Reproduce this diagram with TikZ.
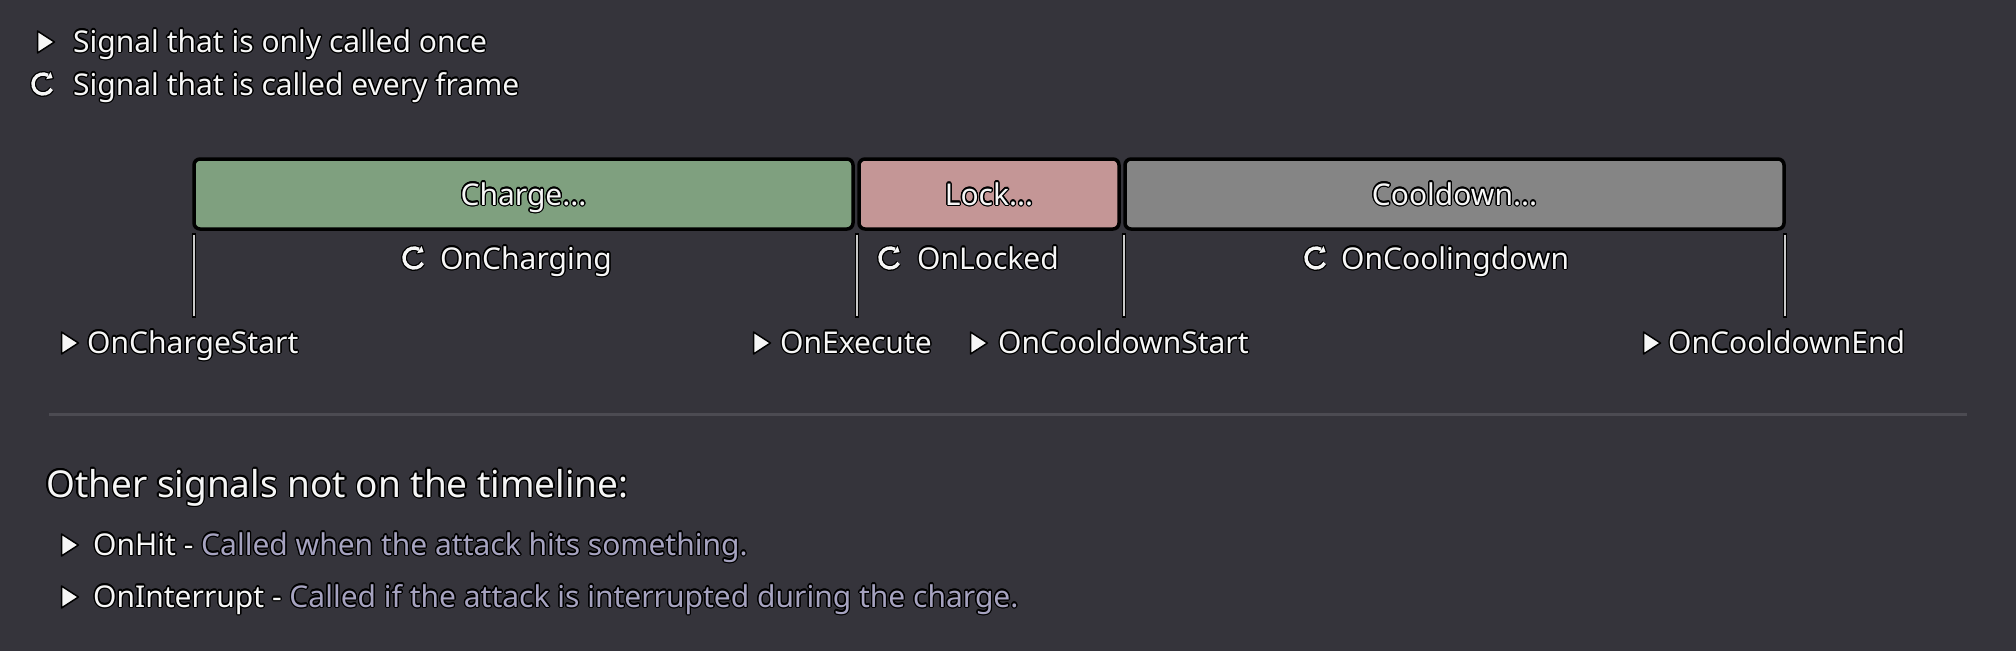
\documentclass[tikz,border=0pt]{standalone}
\usepackage{fontspec}
\setmainfont{Noto Sans}
\usepackage{contour}
\contourlength{1.3pt}
\definecolor{bg}{RGB}{53,52,59}
\definecolor{fg}{RGB}{246,246,246}
\definecolor{desc}{RGB}{166,163,192}
\definecolor{chg}{RGB}{127,160,127}
\definecolor{lck}{RGB}{196,150,150}
\definecolor{cdn}{RGB}{133,133,133}
\definecolor{tickc}{RGB}{200,200,200}
\definecolor{sepc}{RGB}{76,75,82}
\newcommand{\ol}[1]{\contour{black}{#1}}
\begin{document}
\begin{tikzpicture}[x=1pt,y=-1pt,
  txt/.style={inner sep=0pt, anchor=base west, text=fg, font=\fontsize{30}{36}\selectfont},
  head/.style={txt, font=\fontsize{37}{44}\selectfont},
  phase/.style={draw=black, line width=3.5pt, rounded corners=6pt, inner sep=0pt,
    minimum height=70pt, text=fg, font=\fontsize{30}{36}\selectfont, text height=22pt, text depth=0pt},
  tickout/.style={draw=black, line width=4.5pt, line cap=rect},
  tickin/.style={draw=tickc, line width=2pt},
  playicon/.pic={\filldraw[fill=fg, draw=black, line width=1.5pt, line join=round]
     (-7.5,-11) -- (-7.5,11) -- (9.5,0) -- cycle;},
  loopicon/.pic={
     \draw[black, line width=6pt] (30:10) arc[start angle=30, end angle=300, radius=10];
     \filldraw[black, line width=2.6pt, line join=round] (9.6,-5.9) -- (7.6,-11.9) -- (3.2,-4.9) -- cycle;
     \draw[fg, line width=3.4pt] (30:10) arc[start angle=30, end angle=300, radius=10];
     \fill[fg] (9.6,-5.9) -- (7.6,-11.9) -- (3.2,-4.9) -- cycle;}
]
\fill[bg] (0,0) rectangle (2016,651);
\useasboundingbox (0,0) rectangle (2016,651);

% legend
\pic at (45,42) {playicon};
\node[txt] (leg1) at (73,52) {\ol{Signal that is only called once}};
\pic at (43,84) {loopicon};
\node[txt] (leg2) at (73,95) {\ol{Signal that is called every frame}};

% phases
\node[phase, fill=chg, minimum width=659pt] (charge) at (523.5,194) {\ol{Charge...}};
\node[phase, fill=lck, minimum width=260pt] (lock) at (989,194) {\ol{Lock...}};
\node[phase, fill=cdn, minimum width=659pt] (cool) at (1454.5,194) {\ol{Cooldown...}};

% ticks
\coordinate (t1a) at (194,235); \coordinate (t1b) at (194,316);
\coordinate (t2a) at (857,235); \coordinate (t2b) at (857,316);
\coordinate (t3a) at (1124,235); \coordinate (t3b) at (1124,316);
\coordinate (t4a) at (1785,235); \coordinate (t4b) at (1785,316);
\foreach \t in {t1,t2,t3,t4}{
  \draw[tickout] (\t a) -- (\t b);
  \draw[tickin] (\t a) -- (\t b);
}

% per-frame signals
\pic at (414,258) {loopicon};
\node[txt] (oncharging) at (440,269) {\ol{OnCharging}};
\pic at (890,258) {loopicon};
\node[txt] (onlocked) at (917,269) {\ol{OnLocked}};
\pic at (1316,258) {loopicon};
\node[txt] (oncooling) at (1341,269) {\ol{OnCoolingdown}};

% one-shot signals
\pic at (69,343) {playicon};
\node[txt] (onchargestart) at (87,353) {\ol{OnChargeStart}};
\pic at (761,343) {playicon};
\node[txt] (onexecute) at (780,353) {\ol{OnExecute}};
\pic at (978,343) {playicon};
\node[txt] (oncdstart) at (998,353) {\ol{OnCooldownStart}};
\pic at (1651,343) {playicon};
\node[txt] (oncdend) at (1668,353) {\ol{OnCooldownEnd}};

% separator
\coordinate (sepl) at (49,414); \coordinate (sepr) at (1967,414);
\draw[sepc, line width=3pt] (sepl) -- (sepr);

% other signals
\node[head] (heading) at (46,497) {\ol{Other signals not on the timeline:}};
\pic at (69,545) {playicon};
\node[txt] (onhit) at (93,555) {\ol{OnHit - \textcolor{desc}{Called when the attack hits something.}}};
\pic at (69,597) {playicon};
\node[txt] (onint) at (93,607) {\ol{OnInterrupt - \textcolor{desc}{Called if the attack is interrupted during the charge.}}};
\end{tikzpicture}
\end{document}
